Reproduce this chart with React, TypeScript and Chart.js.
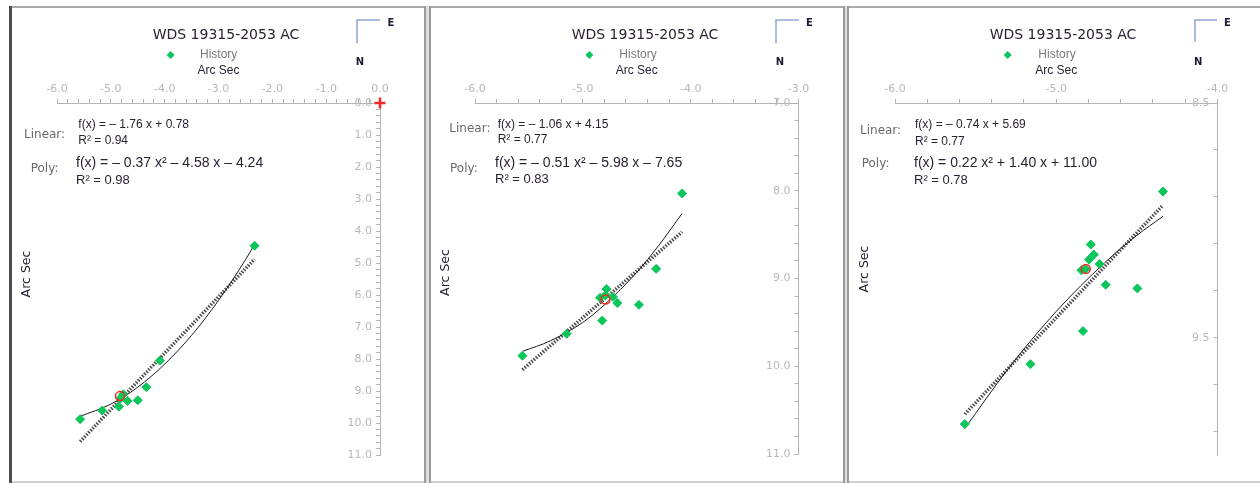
import React, { useEffect, useRef } from "react";
import { Chart, registerables } from "chart.js";

Chart.register(...registerables);

// ---------- shared texts ----------
const TITLE = "WDS 19315-2053 AC";
const LEGEND_LABEL = "History";
const AXIS_LABEL = "Arc Sec";
const LINEAR_LABEL = "Linear:";
const POLY_LABEL = "Poly:";
const COMPASS_E = "E";
const COMPASS_N = "N";
const MINOR_STEP = 0.2;

// ---------- panel 1 ----------
const p1XRange = [-6, 0];
const p1YRange = [0, 11];
const p1HistoryX = [-5.57, -5.16, -4.82, -4.77, -4.85, -4.69, -4.5, -4.34, -4.09, -2.33];
const p1HistoryY = [9.88, 9.61, 9.23, 9.1, 9.49, 9.31, 9.29, 8.88, 8.05, 4.46];
const p1MeanX = [-4.83];
const p1MeanY = [9.16];
const p1OriginX = [0];
const p1OriginY = [0];
const p1LinearX = [-5.57, -2.33];
const p1LinearY = [10.58, 4.88];
const p1PolyX = [-5.57, -5.0, -4.5, -4.0, -3.5, -3.0, -2.5, -2.33];
const p1PolyY = [9.79, 9.41, 8.88, 8.16, 7.26, 6.17, 4.9, 4.42];
const p1LinearText = ["f(x) = – 1.76 x + 0.78", "R² = 0.94"];
const p1PolyText = ["f(x) = – 0.37 x² – 4.58 x – 4.24", "R² = 0.98"];

// ---------- panel 2 ----------
const p2XRange = [-6, -3];
const p2YRange = [7, 11];
const p2HistoryX = [-5.56, -5.15, -4.82, -4.84, -4.78, -4.79, -4.72, -4.68, -4.48, -4.32, -4.08];
const p2HistoryY = [9.88, 9.63, 9.48, 9.22, 9.12, 9.19, 9.21, 9.28, 9.3, 8.89, 8.03];
const p2MeanX = [-4.79];
const p2MeanY = [9.24];
const p2LinearX = [-5.56, -4.08];
const p2LinearY = [10.04, 8.47];
const p2PolyX = [-5.56, -5.3, -5.0, -4.8, -4.5, -4.3, -4.08];
const p2PolyY = [9.83, 9.71, 9.5, 9.3, 8.93, 8.63, 8.26];
const p2LinearText = ["f(x) = – 1.06 x + 4.15", "R² = 0.77"];
const p2PolyText = ["f(x) = – 0.51 x² – 5.98 x – 7.65", "R² = 0.83"];

// ---------- panel 3 ----------
const p3XRange = [-6, -4];
const p3YRange = [8.5, 10.0];
const p3HistoryX = [-5.567, -5.16, -4.834, -4.844, -4.817, -4.796, -4.767, -4.786, -4.731, -4.693, -4.497, -4.338];
const p3HistoryY = [9.868, 9.613, 9.472, 9.213, 9.207, 9.167, 9.146, 9.103, 9.186, 9.275, 9.29, 8.877];
const p3MeanX = [-4.817];
const p3MeanY = [9.207];
const p3LinearX = [-5.567, -4.338];
const p3LinearY = [9.826, 8.935];
const p3PolyX = [-5.567, -5.3, -5.0, -4.7, -4.5, -4.338];
const p3PolyY = [9.887, 9.634, 9.388, 9.181, 9.064, 8.983];
const p3LinearText = ["f(x) = – 0.74 x + 5.69", "R² = 0.77"];
const p3PolyText = ["f(x) = 0.22 x² + 1.40 x + 11.00", "R² = 0.78"];

// ---------- styles ----------
const GREEN = "#0bc65a";
const RED = "#ee2a22";
const AXIS_COLOR = "#b4b4b4";
const TICK_COLOR = "#b8b8b8";
const TEXT_DARK = "#2a2234";
const TEXT_GRAY = "#6a6a6a";
const COMPASS_COLOR = "#8ea6d6";
const SANS = "'DejaVu Sans', sans-serif";
const LIB = "'Liberation Sans', Arial, sans-serif";

type Layout = {
  left: number; top: number; width: number; height: number;
  chartLeft: number; chartBottomPad: number; rightPad: number; yWidth: number;
  legendDot: [number, number]; legendText: [number, number];
  linLabel: [number, number]; linEq: [number, number]; linR2: [number, number];
  polyLabel: [number, number]; polyEq: [number, number]; polyR2: [number, number];
  yTitle: [number, number];
  compass: [number, number, number]; compassE: [number, number]; compassN: [number, number];
};

type Panel = {
  xRange: number[]; yRange: number[];
  histX: number[]; histY: number[];
  meanX: number[]; meanY: number[];
  originX?: number[]; originY?: number[];
  linX: number[]; linY: number[];
  polyX: number[]; polyY: number[];
  linText: string[]; polyText: string[];
  layout: Layout;
};

const PANELS: Panel[] = [
  {
    xRange: p1XRange, yRange: p1YRange, histX: p1HistoryX, histY: p1HistoryY,
    meanX: p1MeanX, meanY: p1MeanY, originX: p1OriginX, originY: p1OriginY,
    linX: p1LinearX, linY: p1LinearY, polyX: p1PolyX, polyY: p1PolyY,
    linText: p1LinearText, polyText: p1PolyText,
    layout: {
      left: 12, top: 8, width: 412, height: 473,
      chartLeft: 45, chartBottomPad: 26, rightPad: 29, yWidth: 15,
      legendDot: [170.7, 55], legendText: [200, 55],
      linLabel: [24, 135], linEq: [78.3, 125], linR2: [78.3, 140.7],
      polyLabel: [30.7, 169.3], polyEq: [76, 163.3], polyR2: [76, 180],
      yTitle: [26.7, 274],
      compass: [357, 20, 23], compassE: [391, 23], compassN: [360, 62],
    },
  },
  {
    xRange: p2XRange, yRange: p2YRange, histX: p2HistoryX, histY: p2HistoryY,
    meanX: p2MeanX, meanY: p2MeanY,
    linX: p2LinearX, linY: p2LinearY, polyX: p2PolyX, polyY: p2PolyY,
    linText: p2LinearText, polyText: p2PolyText,
    layout: {
      left: 431, top: 8, width: 412, height: 473,
      chartLeft: 44, chartBottomPad: 27, rightPad: 28, yWidth: 16.5,
      legendDot: [589.3, 55], legendText: [619.3, 55],
      linLabel: [449.3, 128.5], linEq: [497.7, 125], linR2: [497.7, 140],
      polyLabel: [450, 169.3], polyEq: [495, 163.3], polyR2: [495, 179.3],
      yTitle: [446, 272.5],
      compass: [776, 20, 23], compassE: [809.3, 23], compassN: [780, 62],
    },
  },
  {
    xRange: p3XRange, yRange: p3YRange, histX: p3HistoryX, histY: p3HistoryY,
    meanX: p3MeanX, meanY: p3MeanY,
    linX: p3LinearX, linY: p3LinearY, polyX: p3PolyX, polyY: p3PolyY,
    linText: p3LinearText, polyText: p3PolyText,
    layout: {
      left: 849, top: 8, width: 411, height: 473,
      chartLeft: 46, chartBottomPad: 26, rightPad: 29, yWidth: 13.5,
      legendDot: [1007.7, 55], legendText: [1038.3, 55],
      linLabel: [860, 130.5], linEq: [915, 125], linR2: [915, 141.7],
      polyLabel: [861.7, 164], polyEq: [914, 163.3], polyR2: [914, 180],
      yTitle: [865, 269],
      compass: [1195, 20, 22], compassE: [1227.3, 23], compassN: [1198.3, 62],
    },
  },
];

const pts = (xs: number[], ys: number[]) => xs.map((x, i) => ({ x, y: ys[i] }));

function minorTicks(lo: number, hi: number) {
  const n = Math.floor((hi - lo) / MINOR_STEP + 1e-9);
  const out: { value: number }[] = [];
  for (let i = 0; i <= n; i++) out.push({ value: +(lo + i * MINOR_STEP).toFixed(4) });
  return out;
}

function majorLabel(lo: number) {
  return (v: any) => {
    const k = Number(v) - lo;
    return Math.abs(k - Math.round(k)) < 1e-6 ? Number(v).toFixed(1) : "";
  };
}

function PanelChart({ panel }: { panel: Panel }) {
  const ref = useRef<HTMLCanvasElement>(null);
  useEffect(() => {
    const L = panel.layout;
    const ox = L.left;
    const oy = L.top;
    const titleBottom = 18.6 + 16.8;
    const chartTop = 95;

    const annot = {
      id: "panelAnnotations",
      afterDraw(chart: any) {
        const ctx: CanvasRenderingContext2D = chart.ctx;
        ctx.save();
        ctx.translate(-ox, -oy);
        const txt = (s: string, x: number, y: number, font: string, color: string, align: CanvasTextAlign = "left") => {
          ctx.font = font;
          ctx.fillStyle = color;
          ctx.textAlign = align;
          ctx.textBaseline = "middle";
          ctx.fillText(s, x, y);
        };
        // legend
        const [dx, dy] = L.legendDot;
        ctx.fillStyle = GREEN;
        ctx.beginPath();
        ctx.moveTo(dx, dy - 4);
        ctx.lineTo(dx + 4, dy);
        ctx.lineTo(dx, dy + 4);
        ctx.lineTo(dx - 4, dy);
        ctx.closePath();
        ctx.fill();
        txt(LEGEND_LABEL, L.legendText[0], L.legendText[1], `12px ${LIB}`, "#7a7a7a");
        // fit texts
        txt(LINEAR_LABEL, L.linLabel[0], L.linLabel[1], `12px ${SANS}`, TEXT_GRAY);
        txt(panel.linText[0], L.linEq[0], L.linEq[1], `12px ${LIB}`, TEXT_DARK);
        txt(panel.linText[1], L.linR2[0], L.linR2[1], `12px ${LIB}`, TEXT_DARK);
        txt(POLY_LABEL, L.polyLabel[0], L.polyLabel[1], `12px ${SANS}`, TEXT_GRAY);
        txt(panel.polyText[0], L.polyEq[0], L.polyEq[1], `14px ${LIB}`, TEXT_DARK);
        txt(panel.polyText[1], L.polyR2[0], L.polyR2[1], `13px ${LIB}`, TEXT_DARK);
        // rotated y title
        ctx.save();
        ctx.translate(L.yTitle[0], L.yTitle[1]);
        ctx.rotate(-Math.PI / 2);
        txt(AXIS_LABEL, 0, 0, `12.5px ${SANS}`, TEXT_DARK, "center");
        ctx.restore();
        // compass
        const [cx, cy, cl] = L.compass;
        ctx.strokeStyle = COMPASS_COLOR;
        ctx.lineWidth = 1.5;
        ctx.beginPath();
        ctx.moveTo(cx, cy + cl);
        ctx.lineTo(cx, cy);
        ctx.lineTo(cx + cl, cy);
        ctx.stroke();
        txt(COMPASS_E, L.compassE[0], L.compassE[1], `bold 10px ${SANS}`, "#1c1c34", "center");
        txt(COMPASS_N, L.compassN[0], L.compassN[1], `bold 10px ${SANS}`, "#1c1c34", "center");
        ctx.restore();
      },
    };

    const datasets: any[] = [];
    if (panel.originX && panel.originY) {
      datasets.push({
        label: "Primary", data: pts(panel.originX, panel.originY), pointStyle: "cross",
        pointRadius: 5.5, borderColor: RED, backgroundColor: RED, borderWidth: 2.5, clip: false,
      });
    }
    datasets.push({
      label: "Mean", data: pts(panel.meanX, panel.meanY), pointStyle: "circle", pointRadius: 4.5,
      borderColor: RED, backgroundColor: "rgba(0,0,0,0)", borderWidth: 1.5,
    });
    datasets.push({
      label: LEGEND_LABEL, data: pts(panel.histX, panel.histY), pointStyle: "rectRot", pointRadius: 4.5,
      borderColor: GREEN, backgroundColor: GREEN, borderWidth: 1,
    });
    datasets.push({
      label: "Poly", data: pts(panel.polyX, panel.polyY), showLine: true, pointRadius: 0,
      borderColor: "#1a1a1a", borderWidth: 1, cubicInterpolationMode: "monotone", fill: false,
    });
    datasets.push({
      label: "Linear", data: pts(panel.linX, panel.linY), showLine: true, pointRadius: 0,
      borderColor: "rgba(40,40,40,0.85)", borderWidth: 3.5, borderDash: [1.5, 1.5], fill: false,
    });

    const [xlo, xhi] = panel.xRange;
    const [ylo, yhi] = panel.yRange;

    const chart = new Chart(ref.current!, {
      type: "scatter",
      data: { datasets },
      options: {
        responsive: false,
        animation: false,
        events: [],
        layout: {
          padding: { left: L.chartLeft, right: L.rightPad, top: 0, bottom: L.chartBottomPad },
        },
        plugins: {
          legend: { display: false },
          tooltip: { enabled: false },
          title: {
            display: true, text: TITLE, color: TEXT_DARK,
            font: { family: SANS, size: 14, weight: "normal" as any, lineHeight: 1.2 },
            padding: { top: 18.6, bottom: 0 },
          },
        },
        scales: {
          x: {
            type: "linear", position: "top", min: xlo, max: xhi,
            afterBuildTicks: (s: any) => { s.ticks = minorTicks(xlo, xhi); },
            afterFit: (s: any) => { s.height = chartTop - titleBottom; },
            ticks: {
              autoSkip: false, maxRotation: 0, minRotation: 0, padding: 3, color: TICK_COLOR,
              font: { family: SANS, size: 11 }, callback: majorLabel(xlo),
            },
            grid: { display: true, drawOnChartArea: false, drawTicks: true, tickLength: 4, color: AXIS_COLOR },
            border: { display: true, color: AXIS_COLOR, width: 1 },
            title: {
              display: true, text: AXIS_LABEL, color: TEXT_DARK,
              font: { family: LIB, size: 12, lineHeight: 1.2 }, padding: { top: 20.4, bottom: 0 },
            },
          },
          y: {
            type: "linear", position: "right", reverse: true, min: ylo, max: yhi,
            afterBuildTicks: (s: any) => { s.ticks = minorTicks(ylo, yhi); },
            afterFit: (s: any) => { s.width = L.yWidth; },
            ticks: {
              mirror: true, autoSkip: false, padding: -8, color: TICK_COLOR,
              font: { family: SANS, size: 11 }, callback: majorLabel(ylo),
            },
            grid: { display: true, drawOnChartArea: false, drawTicks: true, tickLength: -4, color: AXIS_COLOR },
            border: { display: true, color: AXIS_COLOR, width: 1 },
          },
        },
      },
      plugins: [annot],
    } as any);
    return () => chart.destroy();
  }, [panel]);

  const L = panel.layout;
  return (
    <canvas
      ref={ref}
      width={L.width}
      height={L.height}
      style={{ position: "absolute", left: L.left, top: L.top, width: L.width, height: L.height }}
    />
  );
}

export default function App() {
  return (
    <div style={{ position: "fixed", left: 0, top: 0, width: 1260, height: 483, background: "#fff", overflow: "hidden" }}>
      <div style={{ position: "absolute", left: 9, top: 6, width: 1251, height: 2, background: "#a9a9a9" }} />
      <div style={{ position: "absolute", left: 9, top: 481, width: 1251, height: 2, background: "#d0d0d0" }} />
      <div style={{ position: "absolute", left: 9, top: 6, width: 3, height: 477, background: "#4d4d4d" }} />
      <div style={{ position: "absolute", left: 424, top: 6, width: 2, height: 477, background: "#9a9a9a" }} />
      <div style={{ position: "absolute", left: 426, top: 6, width: 3, height: 477, background: "#dedede" }} />
      <div style={{ position: "absolute", left: 429, top: 6, width: 2, height: 477, background: "#9a9a9a" }} />
      <div style={{ position: "absolute", left: 843, top: 6, width: 2, height: 477, background: "#9a9a9a" }} />
      <div style={{ position: "absolute", left: 845, top: 6, width: 2, height: 477, background: "#dedede" }} />
      <div style={{ position: "absolute", left: 847, top: 6, width: 2, height: 477, background: "#9a9a9a" }} />
      {PANELS.map((p, i) => (
        <PanelChart key={i} panel={p} />
      ))}
    </div>
  );
}
